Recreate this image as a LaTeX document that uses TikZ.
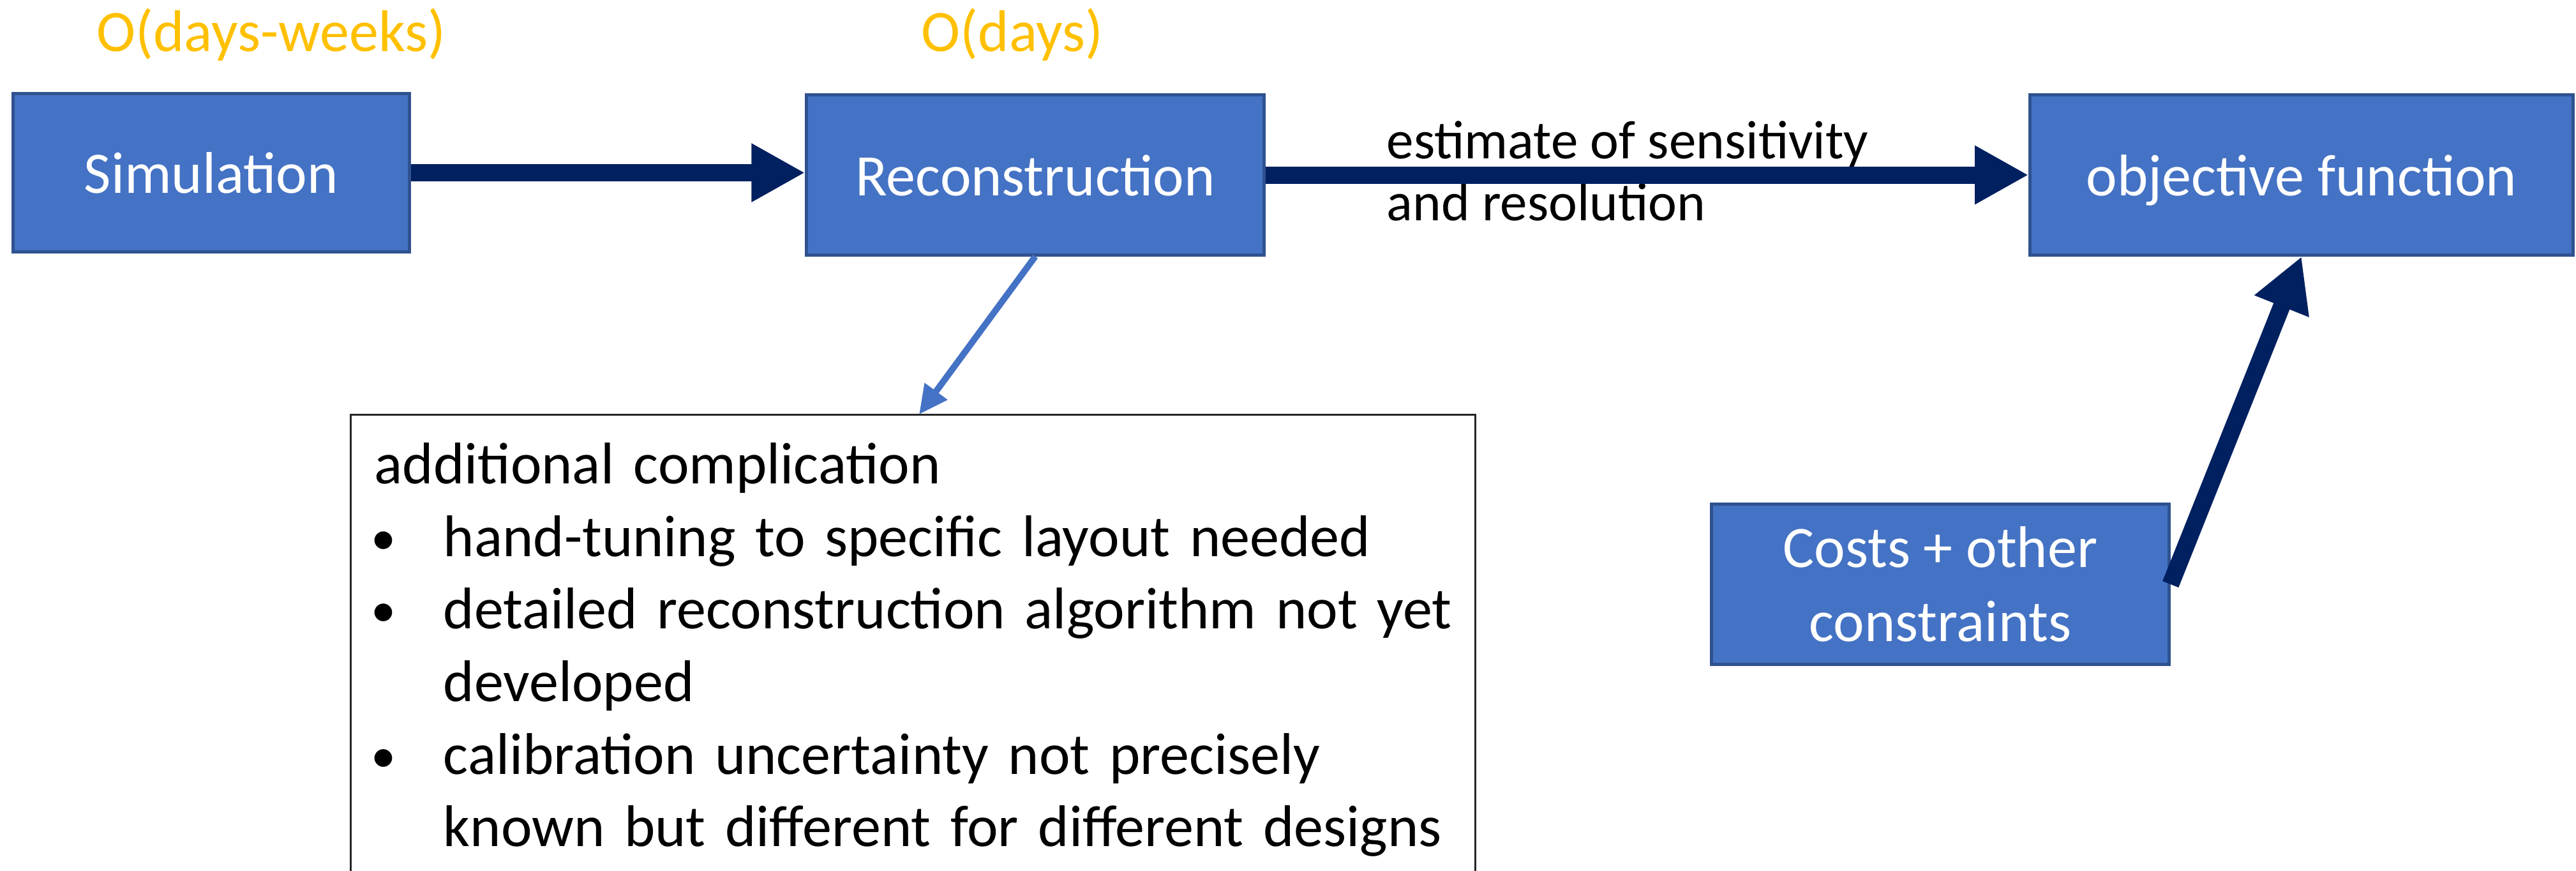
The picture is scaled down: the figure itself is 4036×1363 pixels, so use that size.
\documentclass[tikz,border=0pt]{standalone}
\usepackage{fontspec}
\setmainfont{Carlito}
\usetikzlibrary{arrows.meta}
\definecolor{boxblue}{HTML}{4472C4}
\definecolor{boxedge}{HTML}{2F528F}
\definecolor{navyline}{HTML}{002060}
\definecolor{timeorange}{HTML}{FFC000}
\newcommand{\notebullet}{\makebox[1.08cm][l]{\makebox[0.28cm]{\raisebox{0.03cm}{\scalebox{0.85}{•}}}}}
\begin{document}
\begin{tikzpicture}[x=0.01cm, y=-0.01cm,
  bluebox/.style={draw=boxedge, line width=0.05cm, fill=boxblue, text=white,
    font=\fontsize{26.2}{33}\selectfont, inner sep=0pt, align=center},
  oneline/.style={text height=0.64cm, text depth=0pt},
  timelabel/.style={text=timeorange, font=\fontsize{26.2}{31}\selectfont, inner sep=0pt, anchor=base},
  edgelabel/.style={text=black, font=\fontsize{24.2}{29}\selectfont, inner sep=0pt, anchor=base west},
  bigarrow/.style={draw=navyline, line width=0.27cm, -{Triangle[length=0.84cm, width=0.86cm]}},
  thinarrow/.style={draw=boxblue, line width=0.1cm, -{Triangle[length=0.45cm, width=0.42cm]}},
  noteframe/.style={draw=black!85, line width=0.03cm},
  notetext/.style={inner sep=0pt, anchor=north west, text width=17.2cm, align=left,
    font=\fontsize{26.2}{32.3}\selectfont}
]
\useasboundingbox (0,0) rectangle (4036,1363);
\clip (0,0) rectangle (4036,1363);

% boxes
\node[bluebox, oneline, minimum width=6.2cm, minimum height=2.47cm] (sim) at (331,270.5) {Simulation};
\node[bluebox, oneline, minimum width=7.16cm, minimum height=2.5cm] (recon) at (1622,274) {Reconstruction};
\node[bluebox, oneline, minimum width=8.5cm, minimum height=2.5cm] (obj) at (3606,274) {objective function};
\node[bluebox, minimum width=7.16cm, minimum height=2.5cm] (costs) at (3040,915) {Costs + other\\constraints};

% time labels
\node[timelabel] (t1) at (425,80) {O(days-weeks)};
\node[timelabel] (t2) at (1586,80) {O(days)};

% edge label
\node[edgelabel] (lab1) at (2172,248) {estimate of sensitivity};
\node[edgelabel] (lab2) at (2172,345) {and resolution};

% note box
\coordinate (ftl) at (549,649);
\coordinate (hit) at (1440,649);
\node[notetext] (note) at (586,677) {%
  \setlength{\parindent}{0pt}\setlength{\parskip}{0pt}\raggedright
  \rule{0pt}{0.8cm}additional complication\par
  \hangindent=1.08cm\hangafter=1
  \notebullet hand-tuning to specific layout needed\par
  \hangindent=1.08cm\hangafter=1
  \notebullet detailed reconstruction algorithm not yet\newline developed\par
  \hangindent=1.08cm\hangafter=1
  \notebullet calibration uncertainty not precisely\newline known but different for different designs\par};
\draw[noteframe] (ftl) rectangle ++(1762,780);

% connectors
\draw[bigarrow] (sim.east) -- (sim.east -| recon.west);
\draw[bigarrow] (recon.east) -- (obj.west);
\draw[bigarrow] (costs.east) -- (obj.south);
\draw[thinarrow] (recon.south) -- (hit);
\end{tikzpicture}
\end{document}
